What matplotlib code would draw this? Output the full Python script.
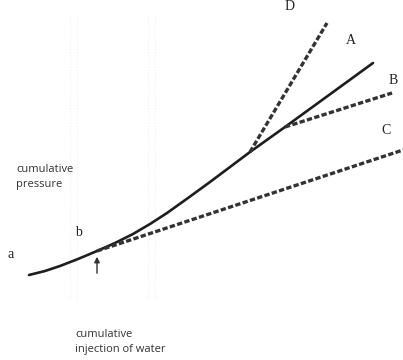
import numpy as np
import matplotlib.pyplot as plt

# schematic curve: cumulative injection (x) vs cumulative pressure (y), arbitrary units
main_x = [29, 45, 60, 78, 97, 115, 133, 150, 167, 188, 210, 250, 285, 373]
main_y = [85, 89, 94, 101, 109, 117, 126, 136, 147, 162, 178, 208, 233, 297]

# branches leaving the main curve
d_x, d_y = [250, 327], [208, 337]
b_x, b_y = [285, 392], [233, 267]
c_x, c_y = [97, 403], [109, 210]

labels = ["D", "A", "B", "C", "b", "a"]
label_x = [290, 351, 393, 386, 78, 11]
label_y = [353, 320, 280, 230, 127, 106]

fig = plt.figure(figsize=(4.03, 3.6), dpi=100)
ax = fig.add_axes([0, 0, 1, 1])
ax.set_xlim(0, 403)
ax.set_ylim(0, 360)
ax.axis("off")

# faint background rules visible in the scan
for gx in [70, 77, 148, 155]:
    ax.plot([gx, gx], [60, 345], color="#f2f2f2", lw=0.8, ls=":")

ax.plot(main_x, main_y, color="#1e1e1e", lw=1.9, solid_capstyle="round",
        solid_joinstyle="round")
dash = (0, (1.6, 0.7))
for xs, ys in [(d_x, d_y), (b_x, b_y), (c_x, c_y)]:
    ax.plot(xs, ys, color="#333333", lw=2.4, ls=dash)

for lab, lx, ly in zip(labels, label_x, label_y):
    ax.text(lx, ly, lab, family="Liberation Serif", fontsize=10, color="#222222",
            ha="center", va="center")

ax.annotate("", xy=(97, 106), xytext=(97, 84),
            arrowprops=dict(arrowstyle="-|>", color="#333333", lw=1.0, mutation_scale=8))

ax.text(16, 183, "cumulative\npressure", family="Open Sans", fontsize=8,
        color="#333333", va="center", ha="left", linespacing=1.5)
ax.text(75, 18, "cumulative\ninjection of water", family="Open Sans", fontsize=8,
        color="#333333", va="center", ha="left", linespacing=1.5)

fig.savefig("out.png", dpi=100)
